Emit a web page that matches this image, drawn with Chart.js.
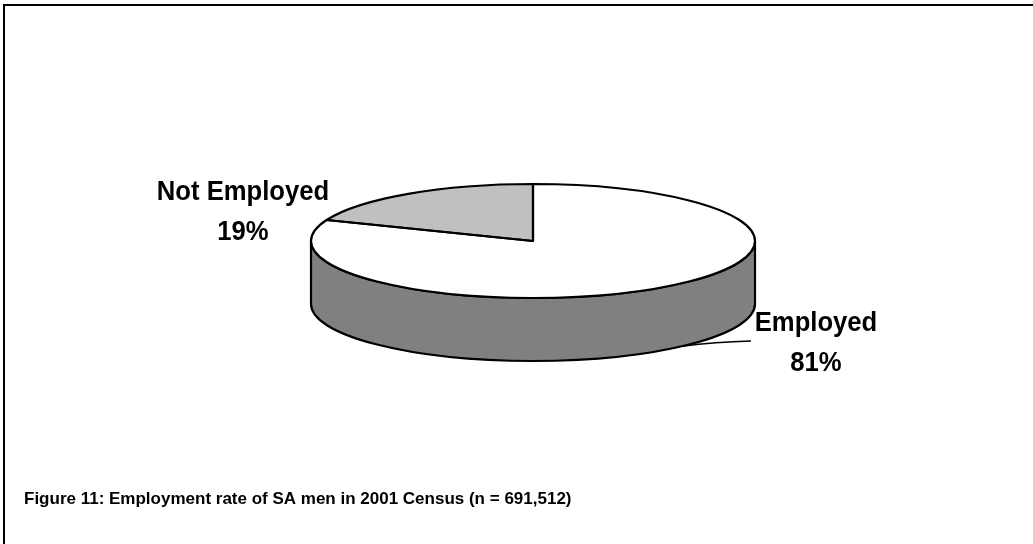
<!DOCTYPE html>
<html>
<head>
<meta charset="utf-8">
<title>Employment rate of SA men, 2001 Census</title>
<script src="https://cdn.jsdelivr.net/npm/chart.js@4/dist/chart.umd.min.js"></script>
<style>
  html, body { margin: 0; padding: 0; background: #ffffff; }
  #wrap { width: 1033px; height: 544px; }
</style>
</head>
<body>
<div id="wrap"><canvas id="pie" width="1033" height="544"></canvas></div>
<script>
// Employment status of SA men, 2001 Census (percent of n = 691,512)
const categories = ["Employed", "Not Employed"];
const shares = [81, 19];
const caption = "Figure 11: Employment rate of SA men in 2001 Census (n = 691,512)";

const topColors = ["#ffffff", "#c0c0c0"];
const sideColors = ["#808080", "#606060"];

// Tilt of the 3-D disc: vertical squash of the face and thickness of the rim
const TILT = 57 / 222;
const DEPTH = 63;
const FONT = '"Liberation Sans", Arial, sans-serif';

function norm(a) {
  const t = Math.PI * 2;
  return ((a % t) + t) % t;
}

const disc3d = {
  id: 'disc3d',
  beforeDatasetsDraw(chart) {
    const ctx = chart.ctx;
    const arcs = chart.getDatasetMeta(0).data;
    const cx = arcs[0].x, cy = arcs[0].y, rx = arcs[0].outerRadius, ry = rx * TILT;

    // Rim: only the front half (0..PI in canvas angles) is visible
    arcs.forEach((arc, i) => {
      let s = norm(arc.startAngle);
      let e = s + (arc.endAngle - arc.startAngle);
      const spans = [];
      for (const off of [0, Math.PI * 2]) {
        const a0 = Math.max(s - off, 0), a1 = Math.min(e - off, Math.PI);
        if (a1 > a0) spans.push([a0, a1]);
      }
      spans.forEach(([a0, a1]) => {
        ctx.save();
        ctx.beginPath();
        ctx.ellipse(cx, cy, rx, ry, 0, a0, a1, false);
        ctx.lineTo(cx + rx * Math.cos(a1), cy + ry * Math.sin(a1) + DEPTH);
        ctx.ellipse(cx, cy + DEPTH, rx, ry, 0, a1, a0, true);
        ctx.closePath();
        ctx.fillStyle = sideColors[i];
        ctx.fill();
        ctx.lineWidth = 2.2;
        ctx.strokeStyle = '#000000';
        ctx.lineJoin = 'round';
        ctx.stroke();
        ctx.restore();
      });
    });

    // Squash the face of the pie into an ellipse
    ctx.save();
    ctx.translate(cx, cy);
    ctx.scale(1, TILT);
    ctx.translate(-cx, -cy);
  },
  afterDatasetsDraw(chart) {
    const ctx = chart.ctx;
    ctx.restore();
    const arcs = chart.getDatasetMeta(0).data;
    const cx = arcs[0].x, cy = arcs[0].y, rx = arcs[0].outerRadius, ry = rx * TILT;

    // Slice outlines on the face
    ctx.save();
    ctx.lineWidth = 2.2;
    ctx.strokeStyle = '#000000';
    ctx.lineJoin = 'round';
    arcs.forEach((arc) => {
      ctx.beginPath();
      ctx.moveTo(cx, cy);
      ctx.lineTo(cx + rx * Math.cos(arc.startAngle), cy + ry * Math.sin(arc.startAngle));
      ctx.ellipse(cx, cy, rx, ry, 0, arc.startAngle, arc.endAngle, false);
      ctx.closePath();
      ctx.stroke();
    });
    ctx.restore();

    // Leader line from the rim of the large slice to its label
    const la = 47.8 * Math.PI / 180;
    ctx.save();
    ctx.beginPath();
    ctx.moveTo(cx + rx * Math.cos(la), cy + ry * Math.sin(la) + DEPTH);
    ctx.quadraticCurveTo(715, 342, 751, 341);
    ctx.lineWidth = 1.5;
    ctx.strokeStyle = '#000000';
    ctx.stroke();
    ctx.restore();

    // Category labels with percentages (slightly condensed bold face)
    const labelAt = [[816, 331], [243, 200]];
    ctx.save();
    ctx.fillStyle = '#000000';
    ctx.font = 'bold 27px ' + FONT;
    ctx.textAlign = 'center';
    ctx.textBaseline = 'alphabetic';
    categories.forEach((name, i) => {
      const [x, y] = labelAt[i];
      [name, shares[i] + '%'].forEach((line, k) => {
        ctx.save();
        ctx.translate(x, y + 40 * k);
        ctx.scale(0.95, 1);
        ctx.fillText(line, 0, 0);
        ctx.restore();
      });
    });
    ctx.restore();

    // Figure caption
    ctx.save();
    ctx.fillStyle = '#000000';
    ctx.font = 'bold 17px ' + FONT;
    ctx.textAlign = 'left';
    ctx.fillText(caption, 24, 504);
    ctx.restore();

    // Frame (top and left edges)
    ctx.save();
    ctx.fillStyle = '#000000';
    ctx.fillRect(3, 4, chart.width - 3, 2);
    ctx.fillRect(3, 4, 2, chart.height - 4);
    ctx.restore();
  }
};

new Chart(document.getElementById('pie'), {
  type: 'pie',
  data: {
    labels: categories,
    datasets: [{
      data: shares,
      backgroundColor: topColors,
      borderWidth: 0,
      radius: 222,
      clip: false
    }]
  },
  options: {
    responsive: false,
    animation: false,
    rotation: 0,
    layout: { padding: { left: 33, right: 0, top: 0, bottom: 62 } },
    plugins: {
      legend: { display: false },
      tooltip: { enabled: false },
      title: { display: false }
    },
    events: []
  },
  plugins: [disc3d]
});
</script>
</body>
</html>
